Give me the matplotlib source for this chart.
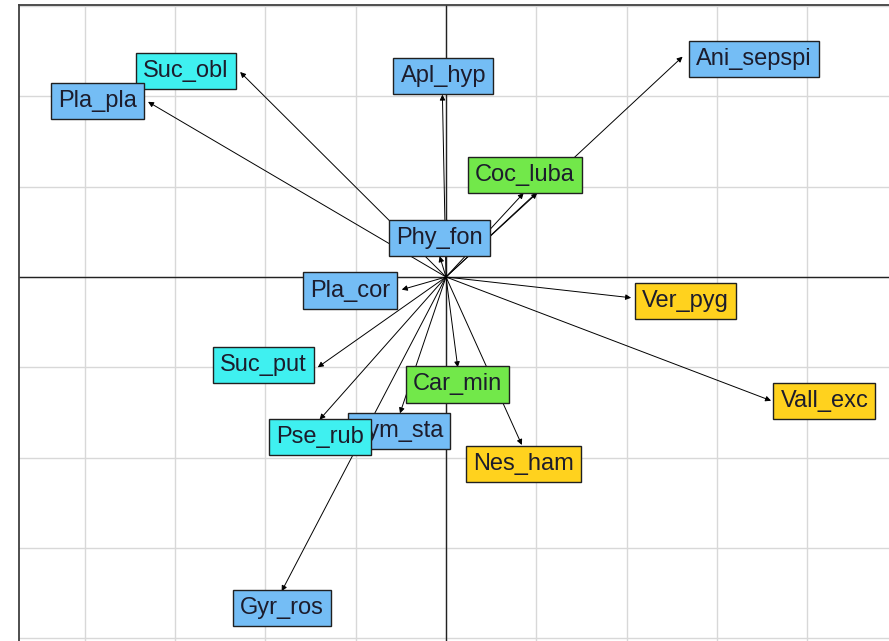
import matplotlib.pyplot as plt

plt.rcParams['font.family'] = ['Liberation Sans', 'DejaVu Sans']

# species labels, arrow tips (biplot scores) and label centres
species = ["Suc_obl", "Pla_pla", "Apl_hyp", "Ani_sepspi", "Coc_luba", "Phy_fon",
           "Pla_cor", "Ver_pyg", "Suc_put", "Car_min", "Vall_exc", "Lym_sta",
           "Pse_rub", "Nes_ham", "Gyr_ros"]
groups = ["wet", "aqua", "aqua", "aqua", "meadow", "aqua",
          "aqua", "dry", "wet", "meadow", "dry", "aqua",
          "wet", "dry", "aqua"]
tip_x = [-2.28, -3.30, -0.04, 2.62, 0.86, -0.07, -0.49, 2.05, -1.42, 0.13, 3.60, -0.51, -1.40, 0.84, -1.82]
tip_y = [2.27, 1.94, 2.02, 2.44, 0.93, 0.23, -0.14, -0.23, -1.00, -1.00, -1.37, -1.51, -1.58, -1.86, -3.48]
lab_x = [-2.88, -3.86, -0.03, 3.41, 0.87, -0.07, -1.06, 2.65, -2.02, 0.13, 4.19, -0.52, -1.40, 0.86, -1.82]
lab_y = [2.28, 1.95, 2.23, 2.41, 1.13, 0.43, -0.15, -0.27, -0.97, -1.19, -1.37, -1.71, -1.77, -2.07, -3.67]
# second vector ending at the Coc_luba box
extra_x = [1.01]
extra_y = [0.93]

colors = {"aqua": "#74bdf5", "wet": "#3ff0f0", "meadow": "#72e84a", "dry": "#ffd21e"}

fig = plt.figure(figsize=(8.89, 6.41), dpi=100)
ax = fig.add_axes([19 / 889, 0, 1 - 19 / 889, 1 - 5 / 641])

ax.set_xlim(-4.729, 4.906)
ax.set_ylim(-4.031, 3.012)
ax.set_xticks(range(-4, 5))
ax.set_yticks(range(-4, 4))
ax.tick_params(length=0, labelbottom=False, labelleft=False)
ax.grid(True, color="#d8d8d8", lw=1)
ax.set_axisbelow(True)
for side in ["right", "bottom"]:
    ax.spines[side].set_visible(False)
for side in ["left", "top"]:
    ax.spines[side].set_color("#404040")
    ax.spines[side].set_linewidth(1.3)

ax.axhline(0, color="#222222", lw=1, zorder=1)
ax.axvline(0, color="#222222", lw=1, zorder=1)

arrow_kw = dict(arrowstyle="-|>", lw=0.7, color="black", mutation_scale=8,
                shrinkA=0, shrinkB=0)
for x, y in zip(tip_x + extra_x, tip_y + extra_y):
    ax.annotate("", xy=(x, y), xytext=(0, 0), arrowprops=arrow_kw, zorder=2)

for name, g, x, y in zip(species, groups, lab_x, lab_y):
    ax.text(x, y, name, ha="center", va="center", fontsize=17, color="#1c1c2c",
            zorder=3,
            bbox=dict(boxstyle="square,pad=0.3", fc=colors[g], ec="#202020", lw=1))

fig.savefig("out.png", dpi=100)
